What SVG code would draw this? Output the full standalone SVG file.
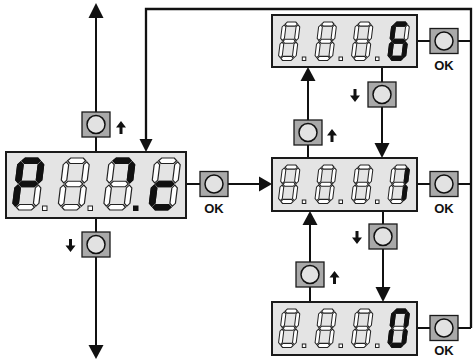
<svg xmlns="http://www.w3.org/2000/svg" xmlns:xlink="http://www.w3.org/1999/xlink" width="473" height="362" viewBox="0 0 473 362">
<style>
.disp{fill:#e4e4e4;stroke:#1a1a1a;stroke-width:2}
.off{fill:#fff;stroke:#222;stroke-width:1.2}
.on{fill:#111;stroke:#111;stroke-width:1.2}
.soff{fill:#fff;stroke:#222;stroke-width:1.5}
.son{fill:#111;stroke:#111;stroke-width:1.5}
.dp{fill:#fff;stroke:#222;stroke-width:1}
.dpon{fill:#111;stroke:#111;stroke-width:1}
.ok{font-family:"Liberation Sans",Arial,sans-serif;font-weight:bold;font-size:13px;fill:#111;text-anchor:middle}
.icon{fill:#111}
.head{fill:#111}
</style>
<defs>
<path id="sa" d="M3.95 2.75 L6.7 0 L19.3 0 L22.05 2.75 L19.3 5.5 L6.7 5.5Z"/>
<path id="sb" d="M23.25 3.95 L26 6.7 L26 22.05 L23.25 24.8 L20.5 22.05 L20.5 6.7Z"/>
<path id="sc" d="M23.25 27.2 L26 29.95 L26 45.3 L23.25 48.05 L20.5 45.3 L20.5 29.95Z"/>
<path id="sd" d="M3.95 49.25 L6.7 46.5 L19.3 46.5 L22.05 49.25 L19.3 52 L6.7 52Z"/>
<path id="se" d="M2.75 27.2 L5.5 29.95 L5.5 45.3 L2.75 48.05 L0 45.3 L0 29.95Z"/>
<path id="sf" d="M2.75 3.95 L5.5 6.7 L5.5 22.05 L2.75 24.8 L0 22.05 L0 6.7Z"/>
<path id="sg" d="M3.95 26 L6.7 23.25 L19.3 23.25 L22.05 26 L19.3 28.75 L6.7 28.75Z"/>
<g id="d8"><use href="#sa"/><use href="#sb"/><use href="#sc"/><use href="#sd"/><use href="#se"/><use href="#sf"/><use href="#sg"/></g>
<g id="button"><rect x="-14" y="-12.5" width="28" height="25" fill="#a9a9a9" stroke="#1a1a1a" stroke-width="1.3"/><circle cx="0" cy="0" r="9" fill="#e2e2e2" stroke="#111" stroke-width="1.5"/></g>
</defs>

<g id="connectors" fill="none" stroke="#111" stroke-width="2">
<path d="M96 17 V112 M96 137 V152 M96 218 V232 M96 257 V346"/>
<path d="M471 328 V9 H146 V140" stroke-width="2.3"/>
<path d="M186 184 H200 M228 184 H260"/>
<path d="M417 41 H430 M458 41 H471"/>
<path d="M417 184 H430 M458 184 H471"/>
<path d="M417 328 H430 M458 328 H471"/>
<path d="M308 158 V145 M308 120 V80"/>
<path d="M382 67 V82 M382 107 V144"/>
<path d="M310 302 V287 M310 262 V224"/>
<path d="M383 211 V224 M383 249 V288"/>
<g stroke="none" class="head">
<polygon points="96,3 88.5,18 103.5,18"/>
<polygon points="96,359 88.5,345 103.5,345"/>
<polygon points="146,152 139.5,139 152.5,139"/>
<polygon points="272,184 259,176.5 259,191.5"/>
<polygon points="308,67 300.5,81 315.5,81"/>
<polygon points="382,158 374.5,143 389.5,143"/>
<polygon points="310,211 302.5,225 317.5,225"/>
<polygon points="383,302 375.5,287 390.5,287"/>
</g>
</g>

<g id="main-display">
<rect class="disp" x="6" y="152" width="180" height="66"/>
<g transform="translate(18.5,158) skewX(-7)"><use href="#d8" class="off"/><use href="#sa" class="on"/><use href="#sb" class="on"/><use href="#sf" class="on"/><use href="#sg" class="on"/><use href="#se" class="on"/></g>
<g transform="translate(64,158) skewX(-7)"><use href="#d8" class="off"/></g>
<g transform="translate(109.5,158) skewX(-7)"><use href="#d8" class="off"/><use href="#sa" class="on"/><use href="#sb" class="on"/></g>
<g transform="translate(155,158) skewX(-7)"><use href="#d8" class="off"/><use href="#sg" class="on"/><use href="#se" class="on"/><use href="#sd" class="on"/></g>
<rect class="dp" x="42.5" y="206" width="4.5" height="4.5"/>
<rect class="dp" x="88" y="206" width="4.5" height="4.5"/>
<rect class="dpon" x="133.5" y="206" width="4.5" height="4.5"/>
</g>

<g id="top-display">
<rect class="disp" x="272" y="15" width="145" height="52"/>
<g transform="translate(282.7,22) skewX(-7) scale(0.68,0.74)"><use href="#d8" class="soff"/></g>
<g transform="translate(319.2,22) skewX(-7) scale(0.68,0.74)"><use href="#d8" class="soff"/></g>
<g transform="translate(355.7,22) skewX(-7) scale(0.68,0.74)"><use href="#d8" class="soff"/></g>
<g transform="translate(392.2,22) skewX(-7) scale(0.68,0.74)"><use href="#d8" class="soff"/><use href="#sa" class="son"/><use href="#sf" class="son"/><use href="#sg" class="son"/><use href="#se" class="son"/><use href="#sc" class="son"/><use href="#sd" class="son"/></g>
<rect class="dp" x="302.3" y="57" width="3.5" height="3.5"/>
<rect class="dp" x="339" y="57" width="3.5" height="3.5"/>
<rect class="dp" x="375.5" y="57" width="3.5" height="3.5"/>
</g>

<g id="mid-display">
<rect class="disp" x="272" y="158" width="145" height="53"/>
<g transform="translate(282.7,165) skewX(-7) scale(0.68,0.74)"><use href="#d8" class="soff"/></g>
<g transform="translate(319.2,165) skewX(-7) scale(0.68,0.74)"><use href="#d8" class="soff"/></g>
<g transform="translate(355.7,165) skewX(-7) scale(0.68,0.74)"><use href="#d8" class="soff"/></g>
<g transform="translate(392.2,165) skewX(-7) scale(0.68,0.74)"><use href="#d8" class="soff"/><use href="#sb" class="son"/><use href="#sc" class="son"/></g>
<rect class="dp" x="302.3" y="200" width="3.5" height="3.5"/>
<rect class="dp" x="339" y="200" width="3.5" height="3.5"/>
<rect class="dp" x="375.5" y="200" width="3.5" height="3.5"/>
</g>

<g id="bottom-display">
<rect class="disp" x="272" y="302" width="145" height="53"/>
<g transform="translate(282.7,309) skewX(-7) scale(0.68,0.74)"><use href="#d8" class="soff"/></g>
<g transform="translate(319.2,309) skewX(-7) scale(0.68,0.74)"><use href="#d8" class="soff"/></g>
<g transform="translate(355.7,309) skewX(-7) scale(0.68,0.74)"><use href="#d8" class="soff"/></g>
<g transform="translate(392.2,309) skewX(-7) scale(0.68,0.74)"><use href="#d8" class="soff"/><use href="#sa" class="son"/><use href="#sb" class="son"/><use href="#sc" class="son"/><use href="#sd" class="son"/><use href="#se" class="son"/><use href="#sf" class="son"/></g>
<rect class="dp" x="302.3" y="344" width="3.5" height="3.5"/>
<rect class="dp" x="339" y="344" width="3.5" height="3.5"/>
<rect class="dp" x="375.5" y="344" width="3.5" height="3.5"/>
</g>

<g id="btn-left-up"><use href="#button" x="96" y="124.5"/><path class="icon" d="M121 121 L126 127.5 H122.5 V134 H119.5 V127.5 H116 Z"/></g>
<g id="btn-left-down"><use href="#button" x="96" y="244.5"/><path class="icon" d="M70.5 252 L75.5 245.5 H72 V239 H69 V245.5 H65.5 Z"/></g>
<g id="btn-ok-main"><use href="#button" x="214" y="184"/><text class="ok" x="214" y="213">OK</text></g>
<g id="btn-ok-top"><use href="#button" x="444" y="41"/><text class="ok" x="444" y="70">OK</text></g>
<g id="btn-ok-mid"><use href="#button" x="444" y="184"/><text class="ok" x="444" y="213">OK</text></g>
<g id="btn-ok-bottom"><use href="#button" x="444" y="328"/><text class="ok" x="444" y="355">OK</text></g>
<g id="btn-top-down"><use href="#button" x="382" y="94.5"/><path class="icon" d="M355 102 L360 95.5 H356.5 V89 H353.5 V95.5 H350 Z"/></g>
<g id="btn-top-up"><use href="#button" x="308" y="132.5"/><path class="icon" d="M332 129 L337 135.5 H333.5 V142 H330.5 V135.5 H327 Z"/></g>
<g id="btn-bot-down"><use href="#button" x="383" y="236.5"/><path class="icon" d="M357 244 L362 237.5 H358.5 V231 H355.5 V237.5 H352 Z"/></g>
<g id="btn-bot-up"><use href="#button" x="310" y="274.5"/><path class="icon" d="M334.5 271 L339.5 277.5 H336 V284 H333 V277.5 H329.5 Z"/></g>
</svg>
